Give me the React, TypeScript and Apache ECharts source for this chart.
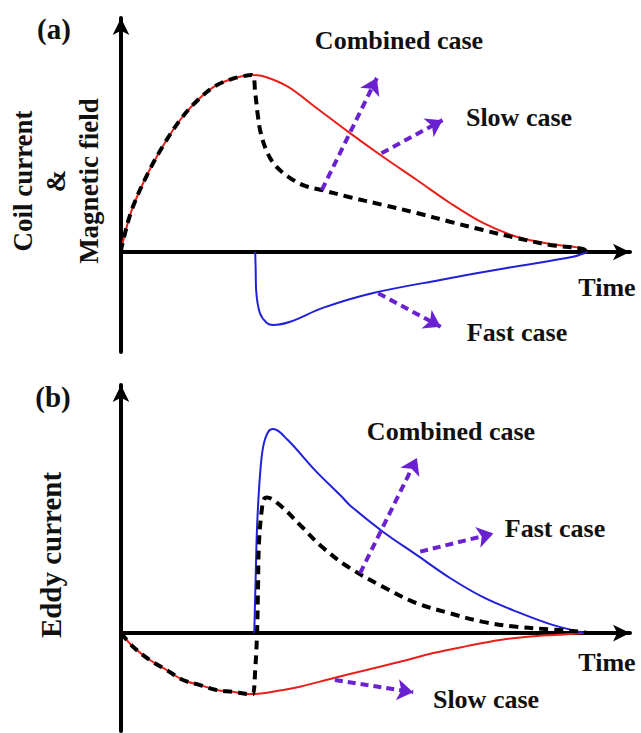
import React, { useEffect, useRef } from "react";
import * as echarts from "echarts";

// ---------- Panel (a): coil current & magnetic field (arbitrary units, time end = 10) ----------
const slowA_t = [0, 0.015, 0.23, 0.58, 0.94, 1.3, 1.65, 2.0, 2.37, 2.81, 3.09, 3.58, 4.16, 4.87, 5.62, 6.35, 7.06, 7.77, 8.49, 9.21, 9.85, 10];
const slowA_v = [0, 0.03, 0.237, 0.446, 0.616, 0.757, 0.859, 0.934, 0.977, 1.0, 0.99, 0.934, 0.821, 0.68, 0.538, 0.407, 0.277, 0.164, 0.086, 0.045, 0.023, 0];

const combA_t = [0, 0.015, 0.23, 0.58, 0.94, 1.3, 1.65, 2.0, 2.37, 2.81, 2.88, 2.93, 3.0, 3.13, 3.3, 3.59, 3.95, 4.31, 4.87, 5.62, 6.35, 7.06, 7.77, 8.49, 9.21, 9.91, 10];
const combA_v = [0, 0.03, 0.237, 0.446, 0.616, 0.757, 0.859, 0.934, 0.977, 1.0, 0.899, 0.784, 0.671, 0.567, 0.492, 0.425, 0.373, 0.35, 0.312, 0.266, 0.22, 0.171, 0.124, 0.079, 0.04, 0.017, 0];

const fastA_t = [2.88, 2.89, 2.9, 2.98, 3.13, 3.26, 3.63, 4.33, 5.41, 6.85, 8.28, 9.7, 10];
const fastA_v = [0, -0.1, -0.215, -0.345, -0.401, -0.412, -0.394, -0.316, -0.232, -0.158, -0.09, -0.027, 0];

// ---------- Panel (b): eddy current ----------
const slowB_t = [0, 0.26, 0.62, 0.98, 1.33, 1.7, 2.05, 2.4, 2.77, 3.48, 3.84, 4.55, 5.27, 5.99, 6.7, 7.42, 8.13, 8.84, 9.56, 10];
const slowB_v = [0, -0.067, -0.132, -0.181, -0.23, -0.255, -0.279, -0.288, -0.299, -0.279, -0.263, -0.221, -0.181, -0.141, -0.098, -0.064, -0.034, -0.015, -0.006, 0];

const fastB_t = [2.86, 2.89, 2.92, 2.98, 3.05, 3.16, 3.27, 3.58, 4.16, 4.74, 4.91, 5.62, 6.35, 7.06, 7.77, 8.49, 9.21, 9.85, 10];
const fastB_v = [0, 0.276, 0.521, 0.766, 0.913, 0.987, 1.0, 0.946, 0.799, 0.668, 0.627, 0.497, 0.382, 0.27, 0.176, 0.105, 0.044, 0.005, 0];

const combB_t = [0, 0.26, 0.62, 0.98, 1.33, 1.7, 2.05, 2.4, 2.77, 2.83, 2.88, 2.92, 2.94, 2.96, 3.02, 3.07, 3.13, 3.45, 3.88, 4.31, 4.87, 5.62, 6.35, 7.06, 7.77, 8.49, 9.21, 9.91, 10];
const combB_v = [0, -0.067, -0.132, -0.181, -0.23, -0.255, -0.279, -0.288, -0.299, -0.299, -0.181, 0, 0.211, 0.441, 0.603, 0.657, 0.665, 0.619, 0.521, 0.423, 0.325, 0.227, 0.146, 0.097, 0.055, 0.031, 0.018, 0.006, 0];

// ---------- Annotation arrows: [x1, y1, x2, y2] in data units ----------
const arrowsA = [
  [4.31, 0.35, 5.49, 0.983],   // combined case
  [5.59, 0.558, 6.9, 0.745],   // slow case
  [5.52, -0.233, 6.86, -0.422] // fast case
];
const arrowsB = [
  [5.13, 0.293, 6.35, 0.858],  // combined case
  [6.42, 0.399, 7.99, 0.488],  // fast case
  [4.59, -0.23, 6.27, -0.29]   // slow case
];

const zip = (t: number[], v: number[]) => t.map((x, i) => [x, v[i]]);

const RED = "#e8201c";
const BLUE = "#2020d8";
const PURPLE = "#6a22d0";
const FONT = '"Liberation Serif", "Times New Roman", serif';

export default function App() {
  const ref = useRef<HTMLDivElement>(null);
  useEffect(() => {
    if (!ref.current) return;
    const chart = echarts.init(ref.current, undefined, { renderer: "svg" });

    const axisLine = (show: boolean) => ({
      show,
      onZero: true,
      symbol: ["none", "arrow"],
      symbolSize: [12.5, 17],
      lineStyle: { color: "#000", width: 4 },
    });
    const hidden = {
      axisTick: { show: false },
      axisLabel: { show: false },
      splitLine: { show: false },
    };

    const lineSeries = (data: number[][], idx: number, color: string, width: number, dashed: boolean, z: number) => ({
      type: "line",
      xAxisIndex: idx,
      yAxisIndex: idx,
      data,
      showSymbol: false,
      symbol: "none",
      smooth: 0.35,
      z,
      lineStyle: { color, width, type: dashed ? [9, 6] : "solid" },
    });

    const arrowSeries = (arrs: number[][], idx: number) => ({
      type: "lines",
      coordinateSystem: "cartesian2d",
      xAxisIndex: idx,
      yAxisIndex: idx,
      symbol: ["none", "arrow"],
      symbolSize: [11, 16],
      z: 5,
      lineStyle: { color: PURPLE, width: 4, type: [8, 5], opacity: 1, curveness: 0 },
      data: arrs.map((a) => ({ coords: [[a[0], a[1]], [a[2], a[3]]] })),
    });

    const txt = (text: string, x: number, y: number, size: number, extra: any = {}) => ({
      type: "text",
      x,
      y,
      style: {
        text,
        font: `bold ${size}px ${FONT}`,
        fill: "#111",
        align: "center",
        verticalAlign: "middle",
        textAlign: "center",
        textVerticalAlign: "middle",
        lineHeight: extra.lineHeight || size,
      },
    });

    chart.setOption({
      animation: false,
      backgroundColor: "#fff",
      grid: [
        { left: 121, top: 18, width: 509, height: 334 },
        { left: 121, top: 385, width: 509, height: 346 },
      ],
      xAxis: [
        { type: "value", gridIndex: 0, min: 0, max: 10.923, axisLine: axisLine(true), ...hidden },
        { type: "value", gridIndex: 1, min: 0, max: 10.923, axisLine: axisLine(true), ...hidden },
      ],
      yAxis: [
        { type: "value", gridIndex: 0, min: -0.565, max: 1.322, axisLine: axisLine(true), ...hidden },
        { type: "value", gridIndex: 1, min: -0.48, max: 1.216, axisLine: axisLine(true), ...hidden },
      ],
      series: [
        lineSeries(zip(slowA_t, slowA_v), 0, RED, 2, false, 2),
        lineSeries(zip(fastA_t, fastA_v), 0, BLUE, 2, false, 2),
        lineSeries(zip(combA_t, combA_v), 0, "#000", 4, true, 3),
        arrowSeries(arrowsA, 0),
        lineSeries(zip(slowB_t, slowB_v), 1, RED, 2, false, 2),
        lineSeries(zip(fastB_t, fastB_v), 1, BLUE, 2, false, 2),
        lineSeries(zip(combB_t, combB_v), 1, "#000", 4, true, 3),
        arrowSeries(arrowsB, 1),
      ],
      graphic: [
        txt("(a)", 54, 29, 29),
        txt("(b)", 53, 397, 29),
        { ...txt("Coil current\n&\nMagnetic field", 56, 181, 27, { lineHeight: 33 }), rotation: Math.PI / 2 },
        { ...txt("Eddy current", 51, 555, 29), rotation: Math.PI / 2 },
        txt("Combined case", 399, 40, 26),
        txt("Slow case", 519, 117, 26),
        txt("Fast case", 517, 332, 26),
        txt("Time", 607, 287, 26),
        txt("Combined case", 451, 431, 26),
        txt("Fast case", 555, 528, 26),
        txt("Time", 607, 662, 26),
        txt("Slow case", 486, 699, 26),
      ],
    });
    return () => chart.dispose();
  }, []);

  return (
    <div
      ref={ref}
      style={{ position: "fixed", left: 0, top: 0, width: 641, height: 733, background: "#fff" }}
    />
  );
}
